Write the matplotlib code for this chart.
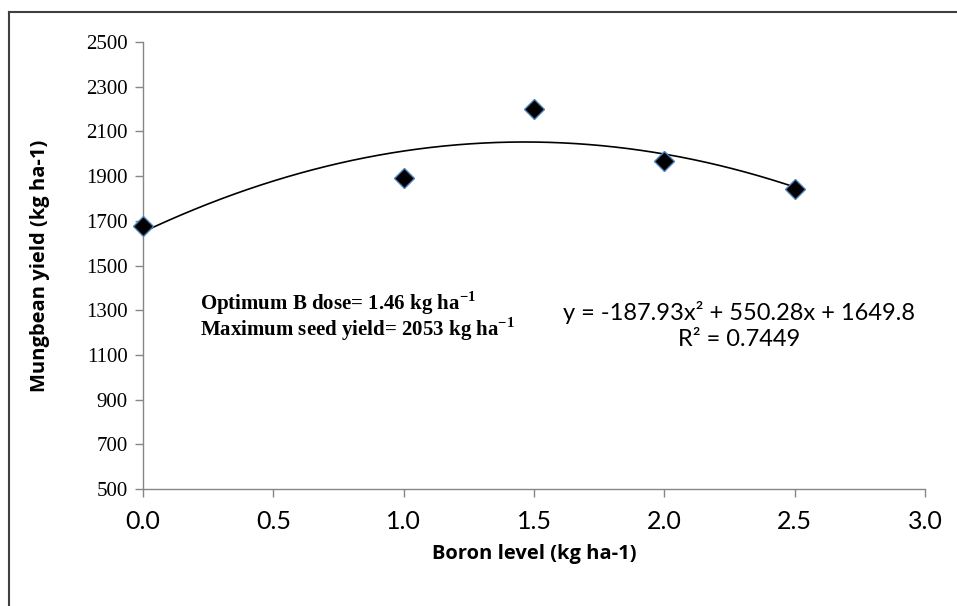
import numpy as np
import matplotlib.pyplot as plt
from matplotlib.lines import Line2D

plt.rcParams['mathtext.fontset'] = 'custom'
plt.rcParams['mathtext.rm'] = 'Liberation Serif'
plt.rcParams['mathtext.bf'] = 'Liberation Serif:bold'

# data
boron = [0.0, 1.0, 1.5, 2.0, 2.5]
yield_kg = [1675, 1892, 2198, 1967, 1843]
# trendline coefficients (from the equation on the chart)
coef = [-187.93, 550.28, 1649.8]
xticks = [0.0, 0.5, 1.0, 1.5, 2.0, 2.5, 3.0]
yticks = list(range(500, 2501, 200))

grey = "#868686"

fig = plt.figure(figsize=(9.57, 6.06), dpi=100)
ax = fig.add_axes([0.1494, 0.193, 0.8172, 0.7377])

xs = np.linspace(0, 2.5, 200)
ax.plot(xs, np.polyval(coef, xs), color="black", lw=1.2, zorder=2)
ax.plot(boron, yield_kg, "D", ms=10.5, mfc="black", mec="#4F81BD", mew=1.0,
        linestyle="none", zorder=3, clip_on=False)

ax.set_xlim(0, 3.0)
ax.set_ylim(500, 2500)
ax.set_xticks(xticks)
ax.set_xticklabels([f"{v:.1f}" for v in xticks], family="Lato", fontsize=18)
ax.set_yticks(yticks)
ax.set_yticklabels([str(v) for v in yticks], family="Liberation Serif", fontsize=15)

for s in ["top", "right"]:
    ax.spines[s].set_visible(False)
for s in ["left", "bottom"]:
    ax.spines[s].set_color(grey)
    ax.spines[s].set_linewidth(1.0)
ax.tick_params(axis="both", direction="out", color=grey, length=6, width=1.0)
ax.tick_params(axis="x", pad=9)
ax.tick_params(axis="y", pad=5)

ax.set_xlabel("Boron level (kg ha-1)", family="Open Sans", fontweight="bold",
              fontsize=14.5, labelpad=8)
ax.set_ylabel("Mungbean yield (kg ha-1)", family="Open Sans", fontweight="bold",
              fontsize=14.5, labelpad=26)

note = (r"Optimum B dose= 1.46 kg ha$^{\mathbf{-1}}$" + "\n"
        + r"Maximum seed yield= 2053 kg ha$^{\mathbf{-1}}$")
fig.text(0.209, 0.522, note, family="Liberation Serif", fontweight="bold",
         fontsize=15, va="top", ha="left", linespacing=0.9)

fig.text(0.772, 0.4719, "y = -187.93x² + 550.28x + 1649.8", family="Lato",
         fontsize=17, ha="center", va="baseline")
fig.text(0.772, 0.429, "R² = 0.7449", family="Lato",
         fontsize=17, ha="center", va="baseline")

# outer frame (left and top edges visible)
fig.add_artist(Line2D([0.0089, 0.0089], [0, 0.980], color="#404040", lw=1.5))
fig.add_artist(Line2D([0.0089, 1.0], [0.980, 0.980], color="#404040", lw=1.5))

fig.savefig("out.png", dpi=100)
